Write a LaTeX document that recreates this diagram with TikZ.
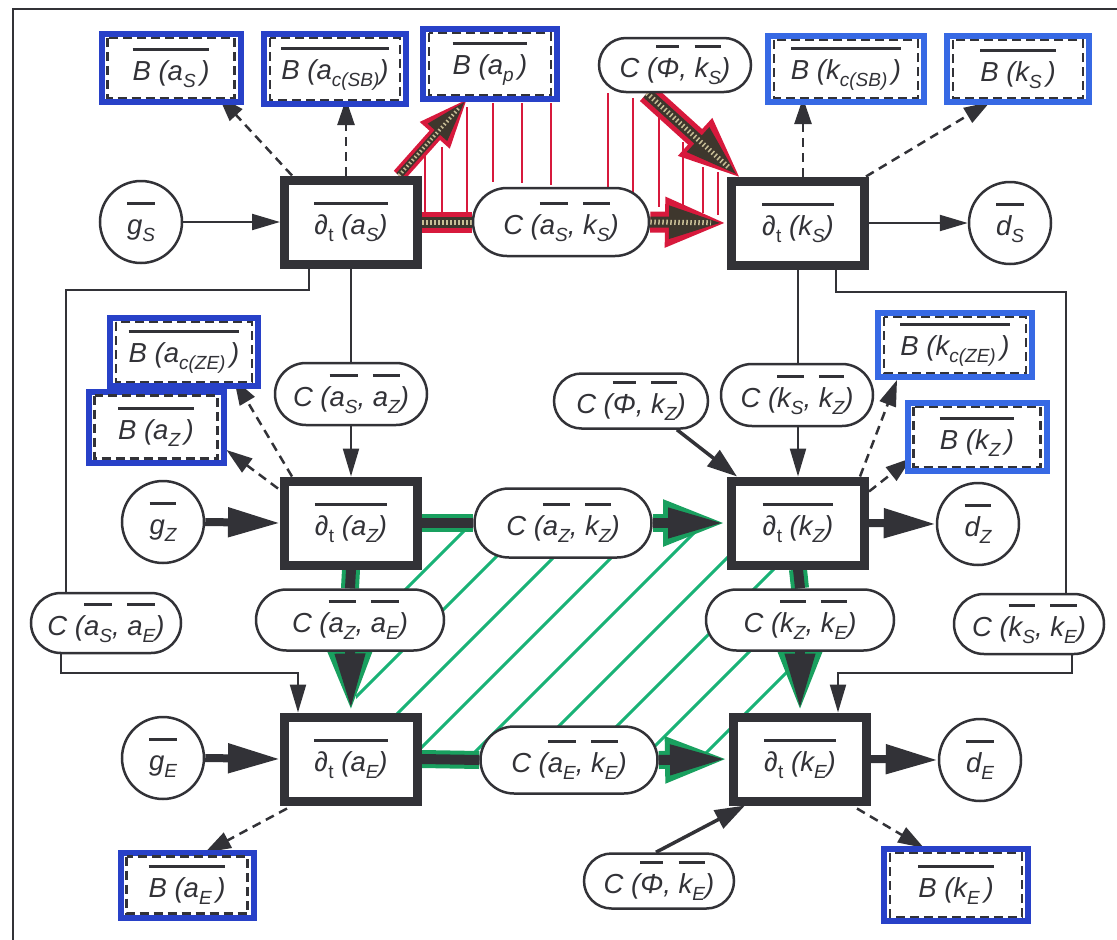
\documentclass[tikz,border=0pt]{standalone}
\usepackage{fontspec}
\setmainfont{Liberation Sans}
\usetikzlibrary{arrows.meta,shapes.misc,calc,backgrounds}
\definecolor{ink}{RGB}{50,50,55}
\definecolor{bluemk}{RGB}{40,65,200}
\definecolor{bluemkb}{RGB}{55,105,228}
\definecolor{greenmk}{RGB}{25,178,118}
\definecolor{greendk}{RGB}{25,160,95}
\definecolor{redmk}{RGB}{215,25,60}
\definecolor{hatchdark}{RGB}{62,55,45}
\definecolor{hatchdot}{RGB}{200,190,150}
\newcommand\ovl[1]{\setbox0=\hbox{#1}\rlap{\raisebox{30pt}{\textcolor{ink}{\rule{\wd0}{2.3pt}}}}\box0}
\newcommand\sbs[1]{\raisebox{-7pt}{\fontsize{19}{19}\selectfont #1}}
\newcommand\dlt{∂\kern0.5pt\raisebox{-7pt}{\fontsize{19}{19}\selectfont\upshape t}}
\begin{document}
\begin{tikzpicture}[x=1pt,y=-1pt,
  every node/.style={text=ink, font=\fontsize{27.5}{30}\selectfont\itshape, inner sep=0pt},
  dbox/.style={draw=ink, line width=9pt, fill=white, minimum width=133pt, minimum height=84pt},
  circ/.style={circle, draw=ink, line width=2.5pt, fill=white, minimum size=82pt},
  cn/.style 2 args={rounded rectangle, draw=ink, line width=2.5pt, fill=white, minimum width=#1, minimum height=#2},
  bb/.style n args={3}{draw=#3, line width=6pt, fill=white, minimum width=#1, minimum height=#2},
  dashbox/.style={draw=ink, line width=2.5pt, dash pattern=on 9pt off 5pt},
  ln/.style={draw=ink, line width=2.2pt},
  tip/.style={-{Triangle[length=28pt,width=16pt]}},
  dsh/.style={draw=ink, line width=2.5pt, dash pattern=on 9pt off 6pt, -{Triangle[length=26pt,width=17pt]}},
  thk/.style={draw=ink, line width=8pt, -{Triangle[length=52pt,width=28pt]}},
  md/.style={draw=ink, line width=3.5pt, -{Triangle[length=30pt,width=20pt]}},
  gunder/.style={draw=greendk, line width=18pt},
  cpl/.style={draw=ink, line width=10pt},
  redunder/.style={draw=redmk, line width=21pt},
  reddark/.style={draw=hatchdark, line width=11pt},
  reddots/.style={draw=hatchdot, line width=5pt, dash pattern=on 1.5pt off 2.5pt},
  redhatch/.style={draw=redmk, line width=2pt},
  greenhatch/.style={draw=greenmk, line width=3pt, line cap=round}
]
\useasboundingbox (0,0) rectangle (1117,940);

% main boxes
\node[dbox] (dAS) at (351,222) {\ovl{\dlt\ (a\sbs{S})}};
\node[dbox] (dKS) at (798,223) {\ovl{\dlt\ (k\sbs{S})}};
\node[dbox] (dAZ) at (351,523) {\ovl{\dlt\ (a\sbs{Z})}};
\node[dbox] (dKZ) at (798,523) {\ovl{\dlt\ (k\sbs{Z})}};
\node[dbox] (dAE) at (351,759) {\ovl{\dlt\ (a\sbs{E})}};
\node[dbox] (dKE) at (800,759) {\ovl{\dlt\ (k\sbs{E})}};

% circles
\node[circ] (gS) at (141,222) {\ovl{g\sbs{S}}};
\node[circ] (dS) at (1010,223) {\ovl{d\sbs{S}}};
\node[circ] (gZ) at (163,522) {\ovl{g\sbs{Z}}};
\node[circ] (dZ) at (978,524) {\ovl{d\sbs{Z}}};
\node[circ] (gE) at (163,758) {\ovl{g\sbs{E}}};
\node[circ] (dE) at (980,760) {\ovl{d\sbs{E}}};

% coupling nodes
\node[cn={176pt}{68pt}] (CaSkS) at (561,222) {C (\ovl{a\sbs{S}}, \ovl{k\sbs{S}})};
\node[cn={152pt}{54pt}] (CPkS) at (675,65) {C (\ovl{Φ}, \ovl{k\sbs{S}})};
\node[cn={152pt}{62pt}] (CaSaZ) at (351,394) {C (\ovl{a\sbs{S}}, \ovl{a\sbs{Z}})};
\node[cn={152pt}{62pt}] (CkSkZ) at (797,395) {C (\ovl{k\sbs{S}}, \ovl{k\sbs{Z}})};
\node[cn={154pt}{55pt}] (CPkZ) at (631,401) {C (\ovl{Φ}, \ovl{k\sbs{Z}})};
\node[cn={150pt}{60pt}] (CaSaE) at (106,623) {C (\ovl{a\sbs{S}}, \ovl{a\sbs{E}})};
\node[cn={188pt}{61pt}] (CaZaE) at (350,620) {C (\ovl{a\sbs{Z}}, \ovl{a\sbs{E}})};
\node[cn={188pt}{61pt}] (CkZkE) at (800,620) {C (\ovl{k\sbs{Z}}, \ovl{k\sbs{E}})};
\node[cn={150pt}{60pt}] (CkSkE) at (1029,624) {C (\ovl{k\sbs{S}}, \ovl{k\sbs{E}})};
\node[cn={177pt}{69pt}] (CaZkZ) at (563,523) {C (\ovl{a\sbs{Z}}, \ovl{k\sbs{Z}})};
\node[cn={177pt}{67pt}] (CaEkE) at (569,760) {C (\ovl{a\sbs{E}}, \ovl{k\sbs{E}})};
\node[cn={150pt}{55pt}] (CPkE) at (659,881) {C (\ovl{Φ}, \ovl{k\sbs{E}})};

% balance nodes
\node[bb={139pt}{68pt}{bluemk}] (BaS) at (171,68) {\ovl{B (a\sbs{S}\,)}};
\node[bb={142pt}{70pt}{bluemk}] (BacSB) at (335,69) {\ovl{B (a\sbs{c(SB)})}};
\node[bb={134pt}{70pt}{bluemk}] (Bap) at (490,64) {\ovl{B (a\sbs{p}\,)}};
\node[bb={156pt}{66pt}{bluemkb}] (BkcSB) at (846,69) {\ovl{B (k\sbs{c(SB)}\,)}};
\node[bb={142pt}{66pt}{bluemkb}] (BkS) at (1018,69) {\ovl{B (k\sbs{S}\,)}};
\node[bb={148pt}{68pt}{bluemk}] (BacZE) at (184,352) {\ovl{B (a\sbs{c(ZE)}\,)}};
\node[bb={135pt}{71pt}{bluemk}] (BaZ) at (156,427) {\ovl{B (a\sbs{Z}\,)}};
\node[bb={154pt}{64pt}{bluemkb}] (BkcZE) at (955,345) {\ovl{B (k\sbs{c(ZE)}\,)}};
\node[bb={139pt}{68pt}{bluemkb}] (BkZ) at (977,437) {\ovl{B (k\sbs{Z}\,)}};
\node[bb={133pt}{65pt}{bluemk}] (BaE) at (187,885) {\ovl{B (a\sbs{E}\,)}};
\node[bb={144pt}{72pt}{bluemk}] (BkE) at (956,885) {\ovl{B (k\sbs{E}\,)}};
\foreach \n in {BaS,BacSB,Bap,BkcSB,BkS,BacZE,BaZ,BkcZE,BkZ,BaE,BkE}
  \draw[dashbox] ($(\n.north west)+(9,7)$) rectangle ($(\n.south east)+(-9,-7)$);

\coordinate (kA) at (66,290);
\coordinate (kB) at (61,673);
\coordinate (kC) at (1066,292);
\coordinate (kD) at (1072,673);

\begin{scope}[on background layer]
  % frame
  \draw[ink, line width=2.5pt] (13,940) -- (13,9) -- (1117,9);
  % red vertical hatching
  \foreach \x/\ya/\yb in {425/155/212,442/147/212,467/107/212,493/103/182,522/103/183,551/103/185,
                          608/93/195,633/98/197,659/117/207,683/142/210,703/167/213,718/172/215}
    \draw[redhatch] (\x,\ya) -- (\x,\yb);
  % green diagonal hatching
  \begin{scope}
    \clip (356,530) rectangle (796,754);
    \foreach \c in {995,1053,1111,1169,1227,1285,1343,1401,1459}
      \draw[greenhatch] (\c-800,800) -- (\c-480,480);
  \end{scope}

  % thin arrows
  \draw[ln,tip] (gS.east) -- (dAS.west);
  \draw[ln,tip] (dKS.east) -- (dS.west);
  \draw[ln] (dAS.south) -- (CaSaZ.north);
  \draw[ln,tip] (CaSaZ.south) -- (dAZ.north);
  \draw[ln] (dKS.south) -- (dKS.south |- CkSkZ.north);
  \draw[ln,tip] (dKS.south |- CkSkZ.south) -- (dKS.south |- dKZ.north);
  \draw[ln] ($(dAS.south)+(-42,0)$) |- (kA) -- (kA |- CaSaE.center);
  \draw[ln,tip] (kB |- CaSaE.center) -- (kB) -| ($(dAE.north)+(-53,0)$);
  \draw[ln] ($(dKS.south)+(38,0)$) |- (kC) -- (kC |- CkSkE.center);
  \draw[ln,tip] (kD |- CkSkE.center) -- (kD) -| ($(dKE.north)+(38,0)$);

  % thick arrows
  \draw[thk] (gZ.east) -- (dAZ.west);
  \draw[thk] (gE.east) -- (dAE.west);
  \draw[thk] (dKZ.east) -- (dZ.west);
  \draw[thk] (dKE.east) -- (dE.west);

  % medium arrows
  \draw[md] ($(CPkZ.south)+(46,0)$) -- ($(dKZ.north west)+(10,0)$);
  \draw[md] ($(CPkE.north)+(-3,0)$) -- ($(dKE.south west)+(16,0)$);

  % dashed arrows to balances
  \draw[dsh] ($(dAS.north west)+(12,0)$) -- ($(BaS.south east)+(-25,-9)$);
  \draw[dsh] ($(dAS.north)+(-5,0)$) -- ($(BacSB.south)+(11,-8)$);
  \draw[dsh] ($(dKS.north)+(5,0)$) -- ($(BkcSB.south)+(-43,-7)$);
  \draw[dsh] ($(dKS.north east)+(-3,0)$) -- ($(BkS.south)+(-28,-3)$);
  \draw[dsh] ($(dAZ.north west)+(12,0)$) -- ($(BacZE.south east)+(-27,-10)$);
  \draw[dsh] ($(dAZ.north west)+(-2,12)$) -- ($(BaZ.east)+(0,23)$);
  \draw[dsh] ($(dKZ.north east)+(-9,0)$) -- ($(BkcZE.south west)+(22,0)$);
  \draw[dsh] ($(dKZ.north east)+(0,15)$) -- ($(BkZ.west)+(7,21)$);
  \draw[dsh] ($(dAE.south west)+(7,3)$) -- ($(BaE.north)+(18,3)$);
  \draw[dsh] ($(dKE.south east)+(-14,3)$) -- ($(BkE.north)+(-32,2)$);

  % green coupling connectors
  \foreach \a/\b in {dAZ.east/CaZkZ.west, dAZ.south/CaZaE.north, dKZ.south/CkZkE.north, dAE.east/CaEkE.west}{
    \draw[gunder] (\a) -- (\b);
    \draw[cpl] (\a) -- (\b);
  }
  \foreach \a/\b in {CaZkZ.east/dKZ.west, CaZaE.south/dAE.north, CkZkE.south/dKE.north, CaEkE.east/dKE.west}{
    \draw[gunder, -{Triangle[length=64pt,width=42pt]}] (\a) -- (\b);
    \draw[cpl, shorten >=3pt, -{Triangle[length=56pt,width=28pt]}] (\a) -- (\b);
  }

  % red highlighted connectors
  \draw[redunder] (dAS.east) -- (CaSkS.west);
  \draw[reddark] (dAS.east) -- (CaSkS.west);
  \draw[reddots] (dAS.east) -- (CaSkS.west);
  \draw[redunder, -{Triangle[length=62pt,width=46pt]}] (CaSkS.east) -- (dKS.west);
  \draw[reddark, shorten >=4pt, -{Triangle[length=54pt,width=30pt]}] (CaSkS.east) -- (dKS.west);
  \draw[reddots, shorten >=16pt] (CaSkS.east) -- (dKS.west);
  \draw[redunder, -{Triangle[length=62pt,width=46pt]}] ($(CPkS.south)+(-28,0)$) -- ($(dKS.north west)+(14,2)$);
  \draw[reddark, shorten >=4pt, -{Triangle[length=54pt,width=30pt]}] ($(CPkS.south)+(-28,0)$) -- ($(dKS.north west)+(14,2)$);
  \draw[reddots, shorten >=16pt] ($(CPkS.south)+(-28,0)$) -- ($(dKS.north west)+(14,2)$);
  \draw[redunder, line width=14pt, -{Triangle[length=50pt,width=36pt]}] ($(dAS.north east)+(-23,0)$) -- ($(Bap.south west)+(48,-4)$);
  \draw[reddark, line width=7pt, shorten >=4pt, -{Triangle[length=42pt,width=24pt]}] ($(dAS.north east)+(-23,0)$) -- ($(Bap.south west)+(48,-4)$);
  \draw[reddots, line width=3.5pt, shorten >=14pt] ($(dAS.north east)+(-23,0)$) -- ($(Bap.south west)+(48,-4)$);
\end{scope}
\end{tikzpicture}
\end{document}
